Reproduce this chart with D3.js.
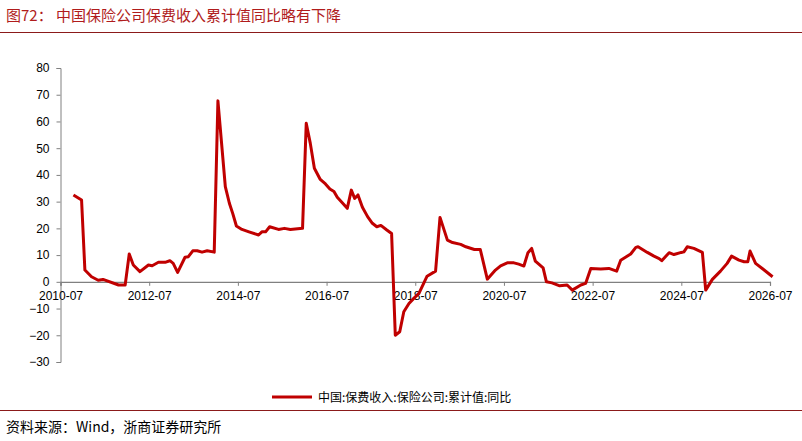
<!DOCTYPE html>
<html><head><meta charset="utf-8">
<script src="https://cdn.jsdelivr.net/npm/d3@7"></script>
<style>body{margin:0;background:#fff;font-family:"Noto Sans CJK SC","Liberation Sans",sans-serif}</style>
</head><body><svg id="c" width="802" height="441"></svg>
<script>
// months since 2010-07
const months=[3.5,5.7,6.6,8.4,10.2,11.5,15.7,17.5,18.6,19.7,21.5,23.8,24.8,26.5,28.3,29.6,30.5,31.7,33.7,34.6,35.8,37,38.3,39.7,41.6,42.6,44.6,45.7,46.6,47.6,49.1,51,53.6,54.5,55.5,56.6,59,60.6,62.2,65.5,66.5,67.6,68.7,70.3,71.7,72.9,74,74.9,77.6,78.7,79.6,80.5,81.7,83.1,84.4,85.6,86.7,88.3,89.6,90.6,91.8,92.9,94.3,95.6,97,99.2,101.5,102.7,104.7,106.1,108.3,109.7,112,113.6,115.5,117.7,119.1,120.9,122.7,124,125.4,126.5,127.5,128.5,130.6,131.5,133,135.1,137.1,138.5,140.8,142.1,143.5,146.2,148.4,150.5,151.6,154.3,155.7,156.3,158.8,160.6,162,162.7,164.7,166,168,168.7,169.6,171.4,173.7,174.6,176.4,178.6,180.4,181.6,183.6,185,186,186.6,188.1,189.9,192.7];
const values=[32.5,30.6,4.4,1.9,0.6,0.9,-1.2,-1.2,10.4,6.3,3.8,6.3,6,7.3,7.3,7.9,6.9,3.5,9.2,9.4,11.6,11.6,11.1,11.6,11.1,67.7,35.6,29.4,25.6,20.9,19.6,18.7,17.5,18.7,18.7,20.6,19.6,20,19.6,20,59.3,51.8,42.5,38.3,36.6,34.7,33.8,31.6,27.5,34.3,31.2,32.5,27.9,24.4,21.9,20.6,21.1,19.4,18.1,-20,-18.7,-11.2,-8.1,-6.2,-4.3,2.1,4,24.1,15.6,14.7,14,13.1,12.1,12.1,1,4.4,6,7.1,7.1,6.6,5.9,10.9,12.5,7.7,5.2,0,-0.4,-1.5,-1.2,-3.1,-1.2,-0.6,5,4.8,5,4,8.1,10.4,12.9,13.1,11,9.6,8.7,7.9,10.9,10.2,11,11.2,13.1,12.5,11,-3.1,0.9,4,6.9,9.6,8.1,7.5,7.5,11.5,6.9,5,1.9];
const xTickMonths=[0,24,48,72,96,120,144,168,192];
const xTickLabels=["2010-07","2012-07","2014-07","2016-07","2018-07","2020-07","2022-07","2024-07","2026-07"];
const yTicks=[-30,-20,-10,0,10,20,30,40,50,60,70,80];
const title="图72：  中国保险公司保费收入累计值同比略有下降";
const seriesName="中国:保费收入:保险公司:累计值:同比";
const source="资料来源：Wind，浙商证券研究所";

const svg=d3.select("#c");
const red="#c00000";
svg.append("text").attr("x",6).attr("y",21).attr("font-size",15).attr("fill","#b01c1c").text(title);
svg.append("line").attr("x1",0).attr("x2",802).attr("y1",32.5).attr("y2",32.5).attr("stroke","#8b1a1a").attr("stroke-width",1);
svg.append("line").attr("x1",0).attr("x2",802).attr("y1",410.5).attr("y2",410.5).attr("stroke","#8b1a1a").attr("stroke-width",1);
svg.append("text").attr("x",6).attr("y",432).attr("font-size",14).attr("fill","#000").text(source);

const x=d3.scaleLinear().domain([0,192]).range([60.5,770]);
const y=d3.scaleLinear().domain([-30,80]).range([362,68]);

const ya=svg.append("g").attr("transform","translate(60.5,0)")
 .call(d3.axisLeft(y).tickValues(yTicks).tickSize(4).tickFormat(d3.format("d")));
ya.select(".domain").attr("stroke","#808080");
ya.selectAll(".tick line").attr("stroke","#808080");
ya.selectAll("text").attr("font-size",12).attr("font-family","Liberation Sans, Arial").attr("fill","#000").attr("dx",-4);

const xa=svg.append("g").attr("transform",`translate(0,${y(0)})`)
 .call(d3.axisBottom(x).tickValues(xTickMonths).tickSize(4).tickFormat((d,i)=>xTickLabels[i]));
xa.select(".domain").attr("stroke","#808080").attr("stroke-width",1.2);
xa.selectAll(".tick line").attr("stroke","#808080");
xa.selectAll("text").attr("font-size",12).attr("font-family","Liberation Sans, Arial").attr("fill","#000").attr("y",10).attr("dy","0.71em");

const pts=months.map((m,i)=>[m,values[i]]);
svg.append("path").datum(pts).attr("fill","none").attr("stroke",red).attr("stroke-width",3)
 .attr("stroke-linejoin","round")
 .attr("d",d3.line().x(d=>x(d[0])).y(d=>y(d[1])));

svg.append("line").attr("x1",272).attr("x2",312).attr("y1",397).attr("y2",397).attr("stroke",red).attr("stroke-width",3);
svg.append("text").attr("x",318).attr("y",401.5).attr("font-size",12).attr("fill","#000").text(seriesName);
</script></body></html>
